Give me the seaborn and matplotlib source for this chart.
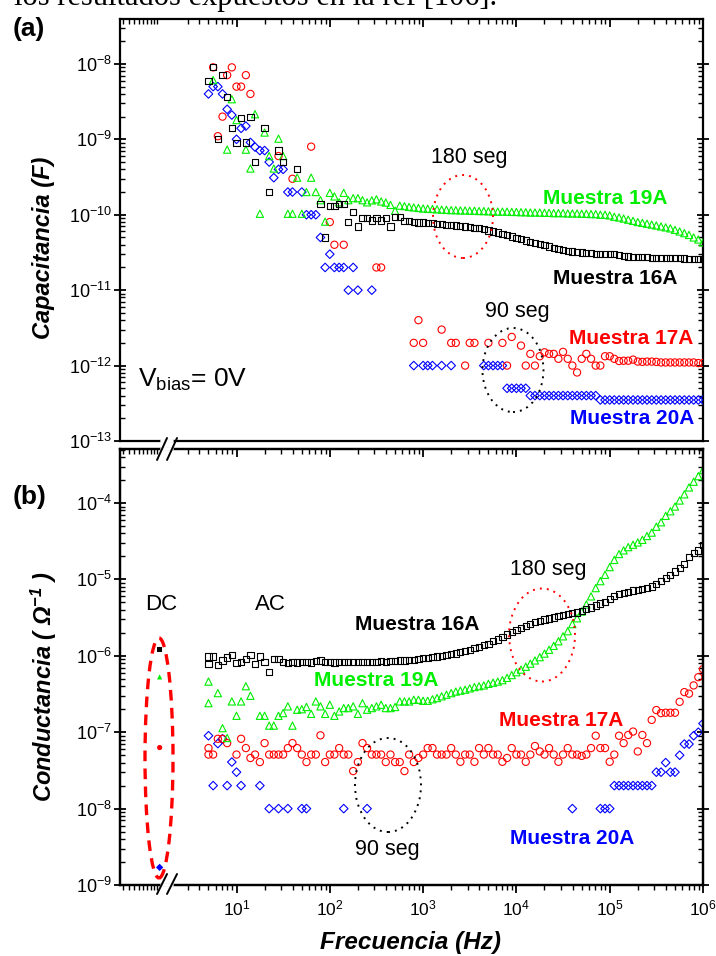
import numpy as np
import pandas as pd
import matplotlib
matplotlib.use("Agg")
import matplotlib.pyplot as plt
from matplotlib.patches import Ellipse
from matplotlib.lines import Line2D
from matplotlib.transforms import IdentityTransform
from matplotlib.ticker import FixedLocator, NullFormatter, LogFormatterSciNotation
import seaborn as sns

sns.set_style("white")
plt.rcParams["font.family"] = ["Liberation Sans", "DejaVu Sans"]
plt.rcParams["mathtext.fontset"] = "custom"
plt.rcParams["mathtext.rm"] = "Liberation Sans"
plt.rcParams["mathtext.it"] = "Liberation Sans:italic"
plt.rcParams["mathtext.bf"] = "Liberation Sans:bold"
try:
    plt.rcParams["mathtext.bfit"] = "Liberation Sans:bold:italic"
except KeyError:
    pass
plt.rcParams.update({"axes.edgecolor": "black", "xtick.color": "black",
                     "ytick.color": "black", "text.color": "black"})

# ---------------------------------------------------------------- data
# sweep: 20 points per decade, 5 Hz .. 1 MHz
decade_steps = [1.00, 1.12, 1.26, 1.41, 1.58, 1.78, 2.00, 2.24, 2.51, 2.82,
                3.16, 3.55, 3.98, 4.47, 5.01, 5.62, 6.31, 7.08, 7.94, 8.91]
decades = [1, 10, 100, 1000, 10000, 100000]
freq_hz = [m * d for d in decades for m in decade_steps if m * d >= 5.0] + [1.0e6]

samples = ["16A", "17A", "19A", "20A"]
sample_colors = {"16A": "#000000", "17A": "#ff0000", "19A": "#00ee00", "20A": "#0000ff"}
sample_markers = {"16A": "s", "17A": "o", "19A": "^", "20A": "D"}

# capacitance (F), panel (a)
cap_16a = [6.0e-9, 9.0e-9, 1.0e-9, 7.1e-9, 3.6e-9, 1.4e-9, 8.9e-10, 1.9e-9, 9.1e-10, 2.0e-9,
           5.0e-10, None, 1.4e-9, 2.0e-10, None, 7.1e-10, 5.0e-10, None, None, 4.0e-10,
           None, None, None, None, 1.4e-10, 5.0e-11, 1.32e-10, 1.32e-10, 1.4e-10, 1.4e-10,
           8.1e-11, 1.1e-10, 7.0e-11, 9.1e-11, 9.1e-11, 8.4e-11, 9.0e-11, 8.4e-11, 9.0e-11, 7.0e-11,
           9.3e-11, 9.3e-11, 8.2e-11, 8.2e-11, 8.0e-11, 7.9e-11, 7.9e-11, 7.8e-11, 7.7e-11, 7.6e-11,
           7.5e-11, 7.4e-11, 7.3e-11, 7.2e-11, 7.1e-11, 7.0e-11, 6.9e-11, 6.7e-11, 6.6e-11, 6.4e-11,
           6.2e-11, 6.0e-11, 5.8e-11, 5.6e-11, 5.35e-11, 5.15e-11, 4.95e-11, 4.75e-11, 4.55e-11, 4.4e-11,
           4.25e-11, 4.1e-11, 4.0e-11, 3.8e-11, 3.65e-11, 3.5e-11, 3.4e-11, 3.3e-11, 3.25e-11, 3.2e-11,
           3.15e-11, 3.1e-11, 3.1e-11, 3.05e-11, 3.05e-11, 3.0e-11, 3.0e-11, 3.0e-11, 2.95e-11, 2.85e-11,
           2.8e-11, 2.78e-11, 2.75e-11, 2.73e-11, 2.72e-11, 2.7e-11, 2.7e-11, 2.68e-11, 2.67e-11, 2.66e-11,
           2.65e-11, 2.64e-11, 2.63e-11, 2.62e-11, 2.61e-11, 2.6e-11, 2.6e-11]
cap_19a = [None, 6.1e-9, None, None, 7.3e-10, 3.4e-9, 1.8e-9, None, 7.3e-10, 4.1e-10,
           2.15e-9, 1.03e-10, 1.23e-9, 6.0e-10, 4.1e-10, 1.02e-9, 6.0e-10, 1.03e-10, 1.03e-10, 3.1e-10,
           1.03e-10, 2.0e-10, 3.1e-10, 2.0e-10, 1.56e-10, 8.1e-11, 1.95e-10, 1.75e-10, 1.46e-10, 1.95e-10,
           1.56e-10, 1.66e-10, 1.66e-10, 1.56e-10, 1.46e-10, 1.55e-10, 1.6e-10, 1.5e-10, 1.45e-10, 1.35e-10,
           1.13e-10, 1.32e-10, 1.3e-10, 1.27e-10, 1.25e-10, 1.23e-10, 1.21e-10, 1.2e-10, 1.19e-10, 1.18e-10,
           1.17e-10, 1.16e-10, 1.15e-10, 1.15e-10, 1.14e-10, 1.14e-10, 1.13e-10, 1.13e-10, 1.12e-10, 1.12e-10,
           1.11e-10, 1.11e-10, 1.1e-10, 1.1e-10, 1.1e-10, 1.09e-10, 1.09e-10, 1.08e-10, 1.08e-10, 1.07e-10,
           1.07e-10, 1.07e-10, 1.06e-10, 1.06e-10, 1.05e-10, 1.05e-10, 1.05e-10, 1.04e-10, 1.04e-10, 1.04e-10,
           1.03e-10, 1.03e-10, 1.02e-10, 1.02e-10, 1.0e-10, 1.0e-10, 9.8e-11, 9.4e-11, 9.2e-11, 8.9e-11,
           8.6e-11, 8.3e-11, 8.0e-11, 7.8e-11, 7.6e-11, 7.4e-11, 7.2e-11, 7.0e-11, 6.8e-11, 6.6e-11,
           6.3e-11, 6.0e-11, 5.7e-11, 5.4e-11, 5.0e-11, 4.7e-11, 4.3e-11]
cap_17a = [None, 9.0e-9, 1.1e-9, 2.0e-9, 7.1e-9, 9.0e-9, 5.0e-9, 5.0e-9, 7.1e-9, 4.0e-9,
           None, None, None, None, None, 6.0e-10, None, None, 3.0e-10, None,
           None, None, 8.0e-10, None, None, None, 8.0e-11, 4.0e-11, None, 4.0e-11,
           None, None, None, None, None, None, 2.0e-11, 2.0e-11, None, None,
           None, None, None, None, 2.0e-12, 4.0e-12, 2.0e-12, None, None, None,
           3.0e-12, None, 2.0e-12, 2.0e-12, None, 1.0e-12, 2.0e-12, 2.0e-12, None, None,
           2.0e-12, None, None, 2.0e-12, 1.0e-12, 2.4e-12, None, 1.84e-12, 1.0e-12, 1.43e-12,
           1.0e-12, 1.33e-12, 1.5e-12, 1.43e-12, 1.43e-12, 1.23e-12, 1.52e-12, 1.23e-12, 1.0e-12, 8.1e-13,
           1.23e-12, 1.43e-12, 1.23e-12, 1.0e-12, 1.0e-12, 1.33e-12, 1.33e-12, 1.23e-12, 1.15e-12, 1.16e-12,
           1.16e-12, 1.2e-12, 1.13e-12, 1.12e-12, 1.13e-12, 1.13e-12, 1.12e-12, 1.1e-12, 1.1e-12, 1.1e-12,
           1.1e-12, 1.1e-12, 1.1e-12, 1.1e-12, 1.1e-12, 1.08e-12, 1.08e-12]
cap_20a = [4.0e-9, 5.0e-9, 5.0e-9, 4.0e-9, 2.5e-9, 2.1e-9, 1.0e-9, 1.4e-9, 1.5e-9, 9.1e-10,
           7.9e-10, 7.1e-10, 7.1e-10, 5.0e-10, 3.1e-10, 4.0e-10, 4.0e-10, 2.0e-10, 2.0e-10, None,
           2.0e-10, 1.0e-10, 1.0e-10, 1.0e-10, 5.0e-11, 2.0e-11, 3.0e-11, 2.0e-11, 2.0e-11, 2.0e-11,
           1.0e-11, 2.0e-11, 1.0e-11, None, None, 1.0e-11, None, None, None, None,
           None, None, None, None, 1.0e-12, None, 1.0e-12, 1.0e-12, 1.0e-12, None,
           1.0e-12, None, 1.0e-12, None, None, None, None, None, None, 1.0e-12,
           1.0e-12, 1.0e-12, 1.0e-12, 1.0e-12, 5.0e-13, 5.0e-13, 5.0e-13, 5.0e-13, 5.0e-13, 4.0e-13,
           4.0e-13, 4.0e-13, 4.0e-13, 4.0e-13, 4.0e-13, 4.0e-13, 4.0e-13, 4.0e-13, 4.0e-13, 4.0e-13,
           4.0e-13, 4.0e-13, 4.0e-13, 4.0e-13, 3.5e-13, 3.5e-13, 3.5e-13, 3.5e-13, 3.5e-13, 3.5e-13,
           3.5e-13, 3.5e-13, 3.5e-13, 3.5e-13, 3.5e-13, 3.5e-13, 3.5e-13, 3.5e-13, 3.5e-13, 3.5e-13,
           3.5e-13, 3.5e-13, 3.5e-13, 3.5e-13, 3.5e-13, 3.5e-13, 3.5e-13]

# conductance (1/ohm), panel (b)
cond_16a = [9.8e-7, 9.8e-7, 7.5e-7, 8.7e-7, 9.5e-7, 1.03e-6, 8.0e-7, 8.4e-7, 9.0e-7, 1.03e-6,
            7.8e-7, 9.8e-7, 8.4e-7, 6.1e-7, 9.0e-7, 9.0e-7, 8.4e-7, 8.0e-7, 8.4e-7, 8.2e-7,
            8.4e-7, 8.4e-7, 8.2e-7, 8.5e-7, 8.7e-7, 8.4e-7, 8.4e-7, 8.2e-7, 8.4e-7, 8.4e-7,
            8.3e-7, 8.4e-7, 8.3e-7, 8.4e-7, 8.4e-7, 8.3e-7, 8.4e-7, 8.5e-7, 8.4e-7, 8.5e-7,
            8.6e-7, 8.7e-7, 8.7e-7, 8.8e-7, 8.9e-7, 9.0e-7, 9.3e-7, 9.3e-7, 9.6e-7, 9.8e-7,
            1.0e-6, 1.03e-6, 1.05e-6, 1.07e-6, 1.11e-6, 1.16e-6, 1.2e-6, 1.26e-6, 1.32e-6, 1.38e-6,
            1.43e-6, 1.55e-6, 1.64e-6, 1.77e-6, 1.9e-6, 2.05e-6, 2.2e-6, 2.32e-6, 2.48e-6, 2.62e-6,
            2.76e-6, 2.88e-6, 2.98e-6, 3.08e-6, 3.18e-6, 3.3e-6, 3.4e-6, 3.5e-6, 3.6e-6, 3.7e-6,
            3.9e-6, 4.1e-6, 4.3e-6, 4.55e-6, 4.85e-6, 5.1e-6, 5.5e-6, 6.0e-6, 6.4e-6, 6.7e-6,
            6.9e-6, 7.15e-6, 7.3e-6, 7.45e-6, 7.65e-6, 8.1e-6, 8.7e-6, 9.5e-6, 1.04e-5, 1.14e-5,
            1.27e-5, 1.4e-5, 1.6e-5, 1.95e-5, 2.2e-5, 2.4e-5, 2.8e-5]
cond_19a = [4.6e-7, None, 3.25e-7, 1.13e-7, 8.4e-8, 2.53e-7, 1.64e-7, 2.53e-7, 4.0e-7, 3.0e-7,
            None, 1.64e-7, 1.64e-7, 1.22e-7, 1.22e-7, 1.64e-7, 1.78e-7, 2.18e-7, 1.22e-7, 1.97e-7,
            2.0e-7, 2.14e-7, 1.74e-7, 2.53e-7, 2.18e-7, 1.74e-7, 2.29e-7, 1.64e-7, 1.87e-7, 2.07e-7,
            2.07e-7, 2.18e-7, 1.74e-7, 2.4e-7, 1.97e-7, 2.07e-7, 2.18e-7, 2.29e-7, 2.07e-7, 2.07e-7,
            2.14e-7, 2.53e-7, 2.53e-7, 2.53e-7, 2.66e-7, 2.66e-7, 2.58e-7, 2.58e-7, 2.7e-7, 2.8e-7,
            2.95e-7, 3.1e-7, 3.25e-7, 3.4e-7, 3.5e-7, 3.6e-7, 3.75e-7, 3.9e-7, 4.0e-7, 4.1e-7,
            4.3e-7, 4.45e-7, 4.6e-7, 4.8e-7, 5.15e-7, 5.6e-7, 6.1e-7, 6.6e-7, 7.2e-7, 7.9e-7,
            8.7e-7, 9.6e-7, 1.07e-6, 1.2e-6, 1.35e-6, 1.55e-6, 1.8e-6, 2.1e-6, 2.6e-6, 3.1e-6,
            3.8e-6, 4.7e-6, 6.0e-6, 7.7e-6, 9.5e-6, 1.15e-5, 1.45e-5, 1.8e-5, 2.15e-5, 2.4e-5,
            2.65e-5, 2.85e-5, 3.05e-5, 3.3e-5, 3.7e-5, 4.1e-5, 4.9e-5, 5.6e-5, 6.8e-5, 7.8e-5,
            9.0e-5, 1.08e-4, 1.3e-4, 1.6e-4, 1.9e-4, 2.25e-4, 2.7e-4]
cond_17a = [6.2e-8, 5.1e-8, 8.2e-8, 8.2e-8, 7.2e-8, None, 5.1e-8, 8.2e-8, 6.2e-8, 4.6e-8,
            5.1e-8, 4.07e-8, 7.2e-8, 5.1e-8, 5.1e-8, 5.1e-8, 5.1e-8, 6.2e-8, 7.2e-8, 6.2e-8,
            5.1e-8, 4.07e-8, 5.1e-8, 5.1e-8, 9.1e-8, 4.07e-8, 5.1e-8, 5.1e-8, 6.2e-8, 5.1e-8,
            5.1e-8, 3.1e-8, 4.07e-8, 7.2e-8, 6.2e-8, 5.1e-8, 5.1e-8, 5.1e-8, 4.07e-8, 5.1e-8,
            4.07e-8, 4.07e-8, 3.1e-8, 5.1e-8, 4.07e-8, 4.6e-8, 5.1e-8, 6.2e-8, 6.2e-8, 5.1e-8,
            5.1e-8, 5.1e-8, 6.2e-8, 5.1e-8, 4.1e-8, 5.1e-8, 5.1e-8, 4.1e-8, 6.2e-8, 5.1e-8,
            6.2e-8, 5.1e-8, 5.1e-8, 4.1e-8, 4.6e-8, 6.2e-8, 5.1e-8, 5.1e-8, 4.1e-8, 5.1e-8,
            6.6e-8, 5.6e-8, 5.1e-8, 6.2e-8, 5.1e-8, 4.1e-8, 5.1e-8, 6.2e-8, 5.1e-8, 5.1e-8,
            4.9e-8, 5.1e-8, 6.2e-8, 9.0e-8, 6.2e-8, 6.2e-8, 4.1e-8, 5.1e-8, 9.0e-8, 7.2e-8,
            9.2e-8, 1.02e-7, 5.6e-8, 9.2e-8, 7.2e-8, 1.45e-7, 1.95e-7, 1.78e-7, 1.8e-7, 1.8e-7,
            1.8e-7, 2.5e-7, 3.35e-7, 3.2e-7, 4.1e-7, 5.25e-7, 6.7e-7]
cond_20a = [9.0e-8, 2.0e-8, 7.1e-8, 8.2e-8, 2.0e-8, 4.07e-8, 3.0e-8, 2.0e-8, None, None,
            None, 2.0e-8, None, 1.0e-8, None, 1.0e-8, None, 1.0e-8, None, None,
            1.0e-8, 1.0e-8, None, None, None, None, None, None, None, 1.0e-8,
            None, None, None, None, 1.0e-8, None, None, None, None, None,
            None, None, None, None, None, None, None, None, None, None,
            None, None, None, None, None, None, None, None, None, None,
            None, None, None, None, None, None, None, None, None, None,
            None, None, None, None, None, None, None, None, 1.0e-8, None,
            None, None, None, None, 1.0e-8, 1.0e-8, 1.0e-8, 2.0e-8, 2.0e-8, 2.0e-8,
            2.0e-8, 2.0e-8, 2.0e-8, 2.0e-8, 2.0e-8, 2.0e-8, 3.0e-8, 3.0e-8, 4.0e-8, 3.0e-8,
            3.0e-8, 5.0e-8, 7.0e-8, 7.0e-8, 9.0e-8, 1.0e-7, 1.3e-7]

# second reading taken at the first sweep frequency
cond_first_repeat = {"16A": 7.8e-7, "19A": 2.4e-7, "17A": 5.1e-8}

# DC conductance, drawn left of the axis break
dc_position_hz = 1.5
dc_conductance = {"16A": 1.2e-6, "19A": 5.3e-7, "17A": 6.3e-8, "20A": 1.7e-9}

cap_series = {"16A": cap_16a, "17A": cap_17a, "19A": cap_19a, "20A": cap_20a}
cond_series = {"16A": cond_16a, "17A": cond_17a, "19A": cond_19a, "20A": cond_20a}
for _s in list(cap_series.values()) + list(cond_series.values()):
    assert len(_s) == len(freq_hz), len(_s)

x_left_hz = 0.564
axis_break_hz = 1.8
cap_ylim = (1e-13, 3.94e-8)
cond_ylim = (1e-9, 5.1e-4)
cap_decades = [1e-13, 1e-12, 1e-11, 1e-10, 1e-9, 1e-8]
cond_decades = [1e-9, 1e-8, 1e-7, 1e-6, 1e-5, 1e-4]
major_x = [1e1, 1e2, 1e3, 1e4, 1e5, 1e6]
minor_x = ([0.6, 0.7, 0.8, 0.9, 1.0, 1.1, 1.2, 1.3, 1.4] + [3, 4, 5, 6, 7, 8, 9]
           + [m * d for d in [10, 100, 1000, 10000, 100000] for m in range(2, 10)])

# ---------------------------------------------------------------- figure
W, H = 716, 956
fig = plt.figure(figsize=(W / 100, H / 100), dpi=100)
fig.patch.set_facecolor("white")


def axes_rect(left, top, right, bottom):
    return [left / W, 1 - bottom / H, (right - left) / W, (bottom - top) / H]


ax_a = fig.add_axes(axes_rect(120, 19, 703, 441))
ax_b = fig.add_axes(axes_rect(120, 449, 703, 885))

marker_sizes = {"s": 20, "o": 27, "^": 27, "D": 19}


def draw_series(ax, sample, values, extra=None):
    frame = pd.DataFrame({"freq": freq_hz, "value": pd.array(values, dtype="Float64")})
    if extra is not None:
        frame = pd.concat([frame, pd.DataFrame({"freq": [freq_hz[0]], "value": [extra]})])
    frame = frame.dropna().astype(float)
    color = sample_colors[sample]
    marker = sample_markers[sample]
    sns.scatterplot(data=frame, x="freq", y="value", ax=ax, marker=marker,
                    s=marker_sizes[marker], color=color, facecolor="none",
                    edgecolor=color, linewidth=0.8, zorder=3, legend=False)
    coll = ax.collections[-1]
    coll.set_facecolor("none")
    coll.set_edgecolor(color)
    coll.set_linewidth(0.8)


for ax, ylim in ((ax_a, cap_ylim), (ax_b, cond_ylim)):
    ax.set_xscale("log")
    ax.set_yscale("log")
    ax.set_xlim(x_left_hz, 1e6)
    ax.set_ylim(*ylim)

for sample in ["20A", "17A", "19A", "16A"]:
    draw_series(ax_a, sample, cap_series[sample])
    draw_series(ax_b, sample, cond_series[sample], cond_first_repeat.get(sample))

dc_frame = pd.DataFrame({"freq": [dc_position_hz] * len(samples),
                         "value": [dc_conductance[s] for s in samples],
                         "sample": samples})
sns.scatterplot(data=dc_frame, x="freq", y="value", hue="sample", style="sample",
                palette=sample_colors, markers=sample_markers, s=14, linewidth=0,
                ax=ax_b, legend=False, zorder=4)

for ax, ylim, ydec in ((ax_a, cap_ylim, cap_decades), (ax_b, cond_ylim, cond_decades)):
    ax.set_xlim(x_left_hz, 1e6)
    ax.set_xlabel("")
    ax.set_ylabel("")
    for sp in ax.spines.values():
        sp.set_linewidth(1.6)
        sp.set_color("black")
    ax.xaxis.set_major_locator(FixedLocator(major_x))
    ax.xaxis.set_minor_locator(FixedLocator(minor_x))
    ax.xaxis.set_minor_formatter(NullFormatter())
    minor_y = [m * d for d in ydec for m in range(2, 10) if m * d <= ylim[1]]
    ax.yaxis.set_major_locator(FixedLocator(ydec))
    ax.yaxis.set_minor_locator(FixedLocator(minor_y))
    ax.yaxis.set_minor_formatter(NullFormatter())
    ax.yaxis.set_major_formatter(LogFormatterSciNotation())
    ax.tick_params(axis="y", which="major", direction="inout", left=True, right=True,
                   labelright=False, length=8, width=1.3, labelsize=13, pad=2)
    ax.tick_params(axis="y", which="minor", direction="in", left=True, right=True,
                   length=3.5, width=1.0)
    ax.set_ylim(*ylim)

ax_a.tick_params(axis="x", which="both", direction="in", top=True, bottom=False,
                 labelbottom=False, labeltop=False)
ax_a.tick_params(axis="x", which="major", length=6, width=1.3)
ax_a.tick_params(axis="x", which="minor", length=3.5, width=1.0)

ax_b.xaxis.set_major_formatter(LogFormatterSciNotation())
ax_b.tick_params(axis="x", which="both", direction="out", top=False, bottom=True,
                 labelbottom=True, labelsize=12.5)
ax_b.tick_params(axis="x", which="major", length=6, width=1.3, pad=4)
ax_b.tick_params(axis="x", which="minor", length=3.5, width=1.0)

ax_top = ax_b.twiny()
ax_top.set_xscale("log")
ax_top.set_xlim(ax_b.get_xlim())
ax_top.yaxis.set_visible(False)
ax_top.xaxis.set_major_locator(FixedLocator(major_x))
ax_top.xaxis.set_minor_locator(FixedLocator(minor_x))
ax_top.xaxis.set_major_formatter(NullFormatter())
ax_top.xaxis.set_minor_formatter(NullFormatter())
ax_top.tick_params(axis="x", which="both", direction="in", top=True, labeltop=False)
ax_top.tick_params(axis="x", which="major", length=6, width=1.3)
ax_top.tick_params(axis="x", which="minor", length=3.5, width=1.0)
for sp in ax_top.spines.values():
    sp.set_linewidth(1.6)

# ---------------------------------------------------------------- annotations
def fx(px):
    return (px - 120) / 583


def fy_a(py):
    return (441 - py) / 422


def fy_b(py):
    return (885 - py) / 436


label_kw = dict(ha="center", va="center", fontsize=15, fontweight="bold")
ax_a.text(fx(605), fy_a(198), "Muestra 19A", color=sample_colors["19A"], transform=ax_a.transAxes, **label_kw)
ax_a.text(fx(615), fy_a(279), "Muestra 16A", color=sample_colors["16A"], transform=ax_a.transAxes, **label_kw)
ax_a.text(fx(631), fy_a(338), "Muestra 17A", color=sample_colors["17A"], transform=ax_a.transAxes, **label_kw)
ax_a.text(fx(632), fy_a(418), "Muestra 20A", color=sample_colors["20A"], transform=ax_a.transAxes, **label_kw)
ax_a.text(fx(469), fy_a(158), "180 seg", ha="center", va="center", fontsize=15.5, transform=ax_a.transAxes)
ax_a.text(fx(517), fy_a(311), "90 seg", ha="center", va="center", fontsize=15.5, transform=ax_a.transAxes)
ax_a.text(fx(138), fy_a(387), r"V$_{\mathregular{bias}}$= 0V", ha="left", va="baseline",
          fontsize=19, transform=ax_a.transAxes)
ax_a.add_patch(Ellipse((fx(463), fy_a(216.5)), 60 / 583, 83 / 422, transform=ax_a.transAxes,
                       fill=False, ec="#ff0000", lw=1.4, ls=(0, (1, 2.6)), zorder=5))
ax_a.add_patch(Ellipse((fx(513), fy_a(370)), 61 / 583, 84 / 422, transform=ax_a.transAxes,
                       fill=False, ec="black", lw=1.4, ls=(0, (1, 2.6)), zorder=5))

ax_b.text(fx(417), fy_b(624), "Muestra 16A", color=sample_colors["16A"], transform=ax_b.transAxes, **label_kw)
ax_b.text(fx(376), fy_b(681), "Muestra 19A", color=sample_colors["19A"], transform=ax_b.transAxes, **label_kw)
ax_b.text(fx(561), fy_b(720), "Muestra 17A", color=sample_colors["17A"], transform=ax_b.transAxes, **label_kw)
ax_b.text(fx(572), fy_b(838), "Muestra 20A", color=sample_colors["20A"], transform=ax_b.transAxes, **label_kw)
ax_b.text(fx(548), fy_b(570), "180 seg", ha="center", va="center", fontsize=15.5, transform=ax_b.transAxes)
ax_b.text(fx(387), fy_b(849), "90 seg", ha="center", va="center", fontsize=15.5, transform=ax_b.transAxes)
ax_b.text(fx(161), fy_b(605), "DC", ha="center", va="center", fontsize=16, transform=ax_b.transAxes)
ax_b.text(fx(270), fy_b(605), "AC", ha="center", va="center", fontsize=16, transform=ax_b.transAxes)
ax_b.add_patch(Ellipse((fx(542), fy_b(635)), 66 / 583, 93 / 436, transform=ax_b.transAxes,
                       fill=False, ec="#ff0000", lw=1.4, ls=(0, (1, 2.6)), zorder=5))
ax_b.add_patch(Ellipse((fx(388), fy_b(785)), 66 / 583, 94 / 436, transform=ax_b.transAxes,
                       fill=False, ec="black", lw=1.4, ls=(0, (1, 2.6)), zorder=5))
ax_b.add_patch(Ellipse((fx(159), fy_b(758)), 28 / 583, 240 / 436, transform=ax_b.transAxes,
                       fill=False, ec="#ff0000", lw=2.4, ls=(0, (3.2, 2.2)), zorder=5))

# panel tags and axis titles
fig.text(29 / W, 1 - 29 / H, "(a)", ha="center", va="center", fontsize=19, fontweight="bold")
fig.text(30 / W, 1 - 497 / H, "(b)", ha="center", va="center", fontsize=19, fontweight="bold")
fig.text(44 / W, 1 - 248 / H, "Capacitancia (F)", rotation=90, ha="center", va="center",
         fontsize=17, fontweight="bold", fontstyle="italic")
fig.text(44 / W, 1 - 686 / H, r"Conductancia ( $\mathbfit{\Omega}^{\mathbfit{-1}}$ )", rotation=90,
         ha="center", va="center", fontsize=17, fontweight="bold", fontstyle="italic")
fig.text(411 / W, 1 - 942 / H, "Frecuencia (Hz)", ha="center", va="center",
         fontsize=17.5, fontweight="bold", fontstyle="italic")
fig.text(14 / W, 1 - 5 / H, "los resultados expuestos en la ref [106].", ha="left",
         va="baseline", fontsize=22, family="Liberation Serif")

# axis break marks
x_break = ax_b.transData.transform((axis_break_hz, 1e-6))[0]


def break_marks(y_spines, y_center, half_h):
    for yy in y_spines:
        fig.add_artist(Line2D([x_break - 5, x_break + 5], [H - yy, H - yy], color="white",
                              lw=2.6, transform=IdentityTransform(), zorder=10))
    for dx in (-5, 5):
        fig.add_artist(Line2D([x_break + dx - 5, x_break + dx + 5],
                              [H - y_center - half_h, H - y_center + half_h],
                              color="black", lw=1.4, transform=IdentityTransform(), zorder=11))


break_marks([441, 449], 449, 11)
break_marks([885], 884, 10)

fig.savefig("out.png", dpi=100, facecolor="white")
